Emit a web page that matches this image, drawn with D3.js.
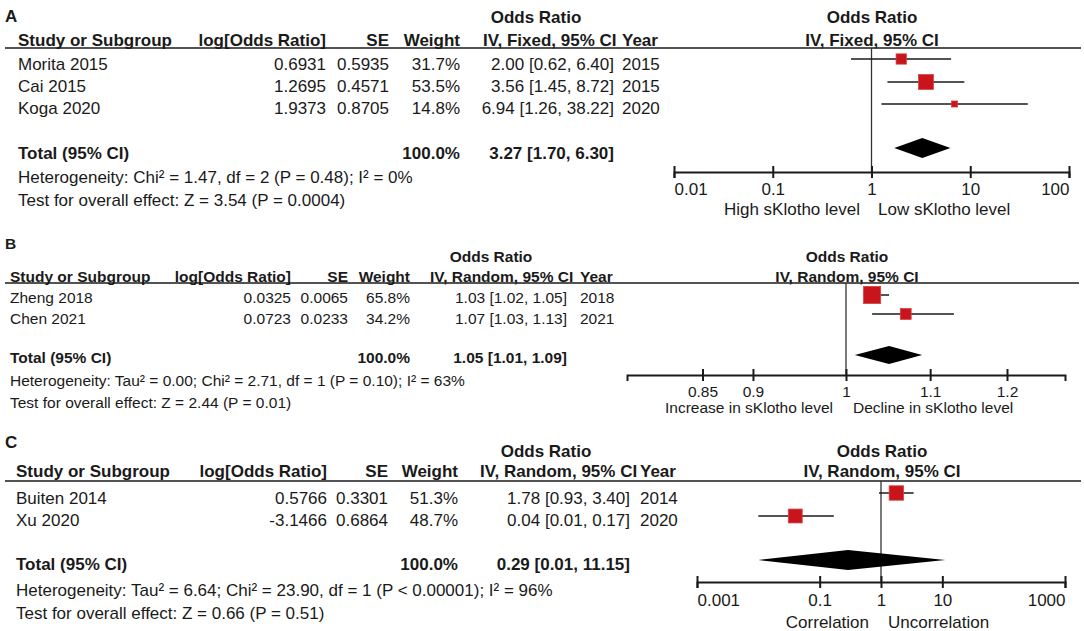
<!DOCTYPE html>
<html>
<head>
<meta charset="utf-8">
<script src="https://cdn.jsdelivr.net/npm/d3@7"></script>
<style>
  body { margin: 0; background: #fff; }
  text { font-family: "Liberation Sans", Arial, sans-serif; fill: #1a1a1a; }
</style>
</head>
<body>
<svg id="chart"></svg>
<script>
const width = 1084;
const height = 631;

// ---- panel A ----
const studiesA = ["Morita 2015", "Cai 2015", "Koga 2020"];
const logOrA = [0.6931, 1.2695, 1.9373];
const seA = [0.5935, 0.4571, 0.8705];
const weightA = [31.7, 53.5, 14.8];
const orA = [2.00, 3.56, 6.94];
const lowA = [0.62, 1.45, 1.26];
const highA = [6.40, 8.72, 38.22];
const yearA = [2015, 2015, 2020];
const totalA = [3.27, 1.70, 6.30];
const ticksA = [0.01, 0.1, 1, 10, 100];
const notesA = ["Heterogeneity: Chi² = 1.47, df = 2 (P = 0.48); I² = 0%",
                "Test for overall effect: Z = 3.54 (P = 0.0004)"];
const sidesA = ["High sKlotho level", "Low sKlotho level"];

// ---- panel B ----
const studiesB = ["Zheng 2018", "Chen 2021"];
const logOrB = [0.0325, 0.0723];
const seB = [0.0065, 0.0233];
const weightB = [65.8, 34.2];
const orB = [1.03, 1.07];
const lowB = [1.02, 1.03];
const highB = [1.05, 1.13];
const yearB = [2018, 2021];
const totalB = [1.05, 1.01, 1.09];
const ticksB = [0.85, 0.9, 1, 1.1, 1.2];
const notesB = ["Heterogeneity: Tau² = 0.00; Chi² = 2.71, df = 1 (P = 0.10); I² = 63%",
                "Test for overall effect: Z = 2.44 (P = 0.01)"];
const sidesB = ["Increase in sKlotho level", "Decline in sKlotho level"];

// ---- panel C ----
const studiesC = ["Buiten 2014", "Xu 2020"];
const logOrC = [0.5766, -3.1466];
const seC = [0.3301, 0.6864];
const weightC = [51.3, 48.7];
const orC = [1.78, 0.04];
const lowC = [0.93, 0.01];
const highC = [3.40, 0.17];
const yearC = [2014, 2020];
const totalC = [0.29, 0.01, 11.15];
const ticksC = [0.001, 0.1, 1, 10, 1000];
const notesC = ["Heterogeneity: Tau² = 6.64; Chi² = 23.90, df = 1 (P < 0.00001); I² = 96%",
                "Test for overall effect: Z = 0.66 (P = 0.51)"];
const sidesC = ["Correlation", "Uncorrelation"];

const methods = ["IV, Fixed, 95% CI", "IV, Random, 95% CI", "IV, Random, 95% CI"];

// layout of each panel (positions only)
const panels = [
  { label: "A", method: methods[0], studies: studiesA, logOr: logOrA, se: seA, weight: weightA,
    or: orA, low: lowA, high: highA, year: yearA, total: totalA, ticks: ticksA, notes: notesA, sides: sidesA,
    fs: 17, labelY: 16, orY: 17, headY: 40, lineY: 48, lineEnd: 1081,
    rowY: [64, 86, 108], boxY: [59, 82, 104], totalY: 153, diaY: 148, diaH: 10, noteY: [177, 200],
    axisY: 172, tickY: 189, sideY: 209, edgeLabels: true,
    col: { study: 18, log: 326, se: 389, weight: 460, ciHead: 483, ci: 614, year: 622, orHead: 536 },
    domain: [0.01, 100], range: [674, 1069], plotHead: 872, sideX: [860, 878] },
  { label: "B", method: methods[1], studies: studiesB, logOr: logOrB, se: seB, weight: weightB,
    or: orB, low: lowB, high: highB, year: yearB, total: totalB, ticks: ticksB, notes: notesB, sides: sidesB,
    fs: 15.5, labelY: 244, orY: 257, headY: 277, lineY: 283, lineEnd: 1079,
    rowY: [298, 319], boxY: [295, 314], totalY: 358, diaY: 355, diaH: 9, noteY: [381, 403],
    axisY: 375, tickY: 392, sideY: 408, edgeLabels: false,
    col: { study: 10, log: 291, se: 348, weight: 410, ciHead: 430, ci: 567, year: 580, orHead: 491 },
    domain: [Math.exp(-0.248), Math.exp(0.248)], range: [627, 1065], plotHead: 847, sideX: [833, 853] },
  { label: "C", method: methods[2], studies: studiesC, logOr: logOrC, se: seC, weight: weightC,
    or: orC, low: lowC, high: highC, year: yearC, total: totalC, ticks: ticksC, notes: notesC, sides: sidesC,
    fs: 17, labelY: 442, orY: 451, headY: 471, lineY: 481, lineEnd: 1081,
    rowY: [498, 520], boxY: [493, 516], totalY: 564, diaY: 560, diaH: 10, noteY: [590, 613],
    axisY: 582, tickY: 600, sideY: 622, edgeLabels: true,
    col: { study: 16, log: 327, se: 388, weight: 458, ciHead: 480, ci: 630, year: 640, orHead: 546 },
    domain: [0.001, 1000], range: [697, 1065], plotHead: 882, sideX: [869, 888] }
];

const svg = d3.select("#chart")
              .attr("width", width)
              .attr("height", height);

const boxSize = d3.scalePow().exponent(0.7).domain([0, 100]).range([0, 23]);
const f2 = d3.format(".2f");
const ciText = (o, l, h) => `${f2(o)} [${f2(l)}, ${f2(h)}]`;
const red = "#c8141c";

panels.forEach(p => {
  const g = svg.append("g");
  const fs = p.fs;

  const txt = (x, y, s, anchor, bold, size) => g.append("text")
      .attr("x", x).attr("y", y).attr("dy", "0.35em")
      .attr("text-anchor", anchor || "start")
      .style("font-size", (size || fs) + "px")
      .style("font-weight", bold ? "bold" : "normal")
      .text(s);

  // panel letter and column headers
  txt(5, p.labelY, p.label, "start", true, fs);
  txt(p.col.orHead, p.orY, "Odds Ratio", "middle", true);
  txt(p.col.study, p.headY, "Study or Subgroup", "start", true);
  txt(p.col.log, p.headY, "log[Odds Ratio]", "end", true);
  txt(p.col.se, p.headY, "SE", "end", true);
  txt(p.col.weight, p.headY, "Weight", "end", true);
  txt(p.col.ciHead, p.headY, p.method, "start", true);
  txt(p.col.year, p.headY, "Year", "start", true);
  txt(p.plotHead, p.orY, "Odds Ratio", "middle", true);
  txt(p.plotHead, p.headY, p.method, "middle", true);

  g.append("line")
   .attr("x1", 5).attr("x2", p.lineEnd)
   .attr("y1", p.lineY).attr("y2", p.lineY)
   .attr("stroke", "#1a1a1a").attr("stroke-width", 1.6);

  // study rows
  p.studies.forEach((s, i) => {
    const y = p.rowY[i];
    txt(p.col.study, y, s);
    txt(p.col.log, y, p.logOr[i].toFixed(4), "end");
    txt(p.col.se, y, p.se[i].toFixed(4), "end");
    txt(p.col.weight, y, p.weight[i].toFixed(1) + "%", "end");
    txt(p.col.ci, y, ciText(p.or[i], p.low[i], p.high[i]), "end");
    txt(p.col.year, y, p.year[i], "start");
  });

  // total and notes
  txt(p.col.study, p.totalY, "Total (95% CI)", "start", true);
  txt(p.col.weight, p.totalY, "100.0%", "end", true);
  txt(p.col.ci, p.totalY, ciText(p.total[0], p.total[1], p.total[2]), "end", true);
  p.notes.forEach((n, i) => txt(p.col.study, p.noteY[i], n));

  // forest plot
  const x = d3.scaleLog().domain(p.domain).range(p.range);

  g.append("line")
   .attr("x1", x(1)).attr("x2", x(1))
   .attr("y1", p.lineY).attr("y2", p.axisY)
   .attr("stroke", "#333").attr("stroke-width", 1.3);

  p.studies.forEach((s, i) => {
    const y = p.boxY[i];
    g.append("line")
     .attr("x1", x(p.low[i])).attr("x2", x(p.high[i]))
     .attr("y1", y).attr("y2", y)
     .attr("stroke", "#1a1a1a").attr("stroke-width", 1.5);
    const sz = boxSize(p.weight[i]);
    g.append("rect")
     .attr("x", x(p.or[i]) - sz / 2).attr("y", y - sz / 2)
     .attr("width", sz).attr("height", sz)
     .attr("fill", red).attr("stroke", "#d9423f").attr("stroke-width", 0.8);
  });

  const [tOr, tLo, tHi] = p.total;
  g.append("polygon")
   .attr("points", [[x(tLo), p.diaY], [x(tOr), p.diaY - p.diaH], [x(tHi), p.diaY], [x(tOr), p.diaY + p.diaH]].join(" "))
   .attr("fill", "#000");

  const axis = d3.axisBottom(x)
                 .tickValues(p.ticks)
                 .tickFormat(d3.format("~g"))
                 .tickSizeOuter(0)
                 .tickSize(6);

  const ag = g.append("g")
              .attr("transform", `translate(0,${p.axisY})`)
              .call(axis);
  ag.select(".domain").attr("stroke", "#1a1a1a").attr("stroke-width", 2);
  ag.selectAll(".tick line").attr("y1", -6).attr("y2", 6).attr("stroke", "#1a1a1a").attr("stroke-width", 2);
  const last = p.ticks.length - 1;
  ag.selectAll(".tick text")
    .attr("y", p.tickY - p.axisY).attr("dy", "0.35em")
    .attr("fill", "#1a1a1a")
    .attr("text-anchor", (d, i) => !p.edgeLabels ? "middle" : i === 0 ? "start" : i === last ? "end" : "middle")
    .style("font-size", fs + "px")
    .style("font-family", "'Liberation Sans', Arial, sans-serif");

  txt(p.sideX[0], p.sideY, p.sides[0], "end");
  txt(p.sideX[1], p.sideY, p.sides[1], "start");
});
</script>
</body>
</html>
